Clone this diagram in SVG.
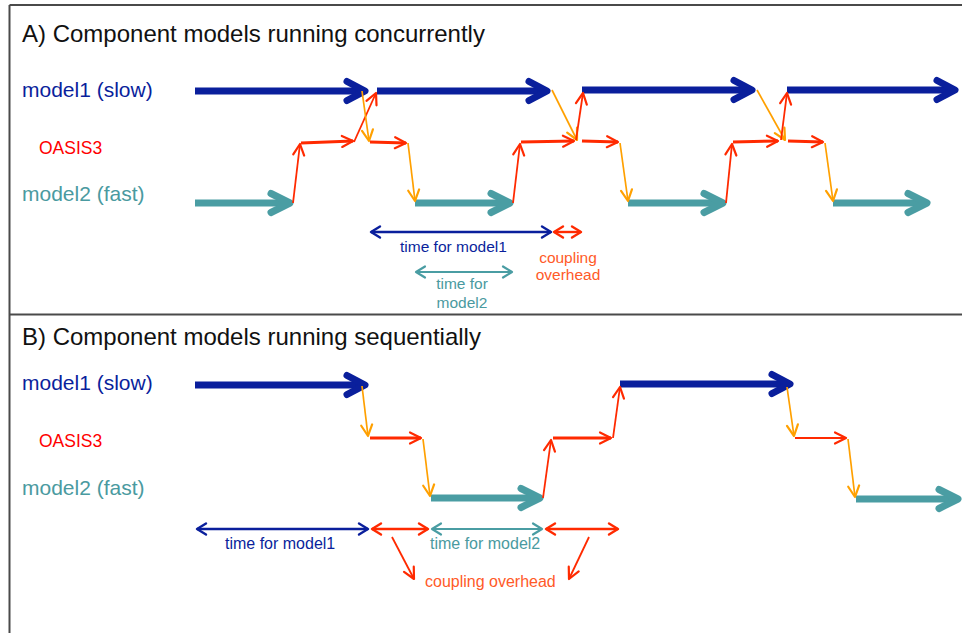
<svg xmlns="http://www.w3.org/2000/svg" width="962" height="633" viewBox="0 0 962 633">
<style>
text{font-family:"Liberation Sans",Arial,sans-serif}
.title{font-size:24px;fill:#111}
.m1{font-size:21px;fill:#0a1f9c}
.m2{font-size:21px;fill:#4a9aa0}
.oa{font-size:17.5px;fill:#ff0000}
.sm{font-size:15.5px}
.smb{font-size:16px}
.tb{fill:#0a1f9c}
.tt{fill:#4a9aa0}
.to{fill:#ff5a28}
.frame{stroke:#4a4a4a;stroke-width:2;fill:none}
.tkb{stroke:#0a1f9c;stroke-width:7;fill:none;marker-end:url(#hb)}
.tkt{stroke:#4a9da3;stroke-width:7;fill:none;marker-end:url(#ht)}
.rv{stroke:#ff2a00;stroke-width:1.8;fill:none;marker-end:url(#mr)}
.rh{stroke:#ff2a00;stroke-width:3;fill:none;marker-end:url(#mr)}
.rt{stroke:#ff2a00;stroke-width:1.8;fill:none;marker-end:url(#mr)}
.or{stroke:#ffa000;stroke-width:1.7;fill:none;marker-end:url(#mo)}
.db{stroke:#0a1f9c;stroke-width:2.4;fill:none;marker-start:url(#sb);marker-end:url(#sb)}
.dr{stroke:#ff2a00;stroke-width:2.4;fill:none;marker-start:url(#sr);marker-end:url(#sr)}
.dt{stroke:#4a9da3;stroke-width:2.2;fill:none;marker-start:url(#st);marker-end:url(#st)}
</style>
<defs>
<marker id="hb" markerUnits="userSpaceOnUse" markerWidth="40" markerHeight="40" viewBox="0 0 40 40" refX="30" refY="20" orient="auto" overflow="visible">
<path d="M12 10.5 L30 20 L12 29.5" fill="none" stroke="#0a1f9c" stroke-width="7" stroke-linecap="round" stroke-linejoin="round"/>
</marker>
<marker id="ht" markerUnits="userSpaceOnUse" markerWidth="40" markerHeight="40" viewBox="0 0 40 40" refX="30" refY="20" orient="auto" overflow="visible">
<path d="M11 10.5 L30 20 L11 29.5" fill="none" stroke="#4a9da3" stroke-width="7" stroke-linecap="round" stroke-linejoin="round"/>
</marker>
<marker id="mr" markerUnits="userSpaceOnUse" markerWidth="16" markerHeight="16" viewBox="0 0 16 16" refX="13" refY="8" orient="auto" overflow="visible">
<path d="M2 2.5 L13 8 L2 13.5" fill="none" stroke="#ff2a00" stroke-width="2.2" stroke-linecap="round" stroke-linejoin="round"/>
</marker>
<marker id="mo" markerUnits="userSpaceOnUse" markerWidth="16" markerHeight="16" viewBox="0 0 16 16" refX="13" refY="8" orient="auto" overflow="visible">
<path d="M2 2.5 L13 8 L2 13.5" fill="none" stroke="#ffa000" stroke-width="2.2" stroke-linecap="round" stroke-linejoin="round"/>
</marker>
<marker id="sb" markerUnits="userSpaceOnUse" markerWidth="16" markerHeight="16" viewBox="0 0 16 16" refX="13" refY="8" orient="auto-start-reverse" overflow="visible">
<path d="M4 2.5 L13 8 L4 13.5" fill="none" stroke="#0a1f9c" stroke-width="2.4" stroke-linecap="round" stroke-linejoin="round"/>
</marker>
<marker id="sr" markerUnits="userSpaceOnUse" markerWidth="16" markerHeight="16" viewBox="0 0 16 16" refX="13" refY="8" orient="auto-start-reverse" overflow="visible">
<path d="M4 2.5 L13 8 L4 13.5" fill="none" stroke="#ff2a00" stroke-width="2.4" stroke-linecap="round" stroke-linejoin="round"/>
</marker>
<marker id="st" markerUnits="userSpaceOnUse" markerWidth="16" markerHeight="16" viewBox="0 0 16 16" refX="13" refY="8" orient="auto-start-reverse" overflow="visible">
<path d="M4 2.5 L13 8 L4 13.5" fill="none" stroke="#4a9da3" stroke-width="2.2" stroke-linecap="round" stroke-linejoin="round"/>
</marker>
</defs>
<rect width="962" height="633" fill="#fff"/>
<g id="frames">
<path class="frame" d="M9.5 5 H962 M9.5 5 V633"/>
<path class="frame" d="M9.5 314.5 H962" stroke-width="2.5"/>
</g>
<g id="panelA-labels">
<text class="title" x="22" y="42">A) Component models running concurrently</text>
<text id="A-model1" class="m1" x="22" y="97">model1 (slow)</text>
<text id="A-oasis" class="oa" x="39" y="154">OASIS3</text>
<text id="A-model2" class="m2" x="22" y="201">model2 (fast)</text>
<text class="sm tb" x="400" y="252">time for model1</text>
<text class="sm tt" x="462" y="289" text-anchor="middle">time for</text>
<text class="sm tt" x="462" y="308" text-anchor="middle">model2</text>
<text class="sm to" x="568" y="263" text-anchor="middle">coupling</text>
<text class="sm to" x="568" y="280" text-anchor="middle">overhead</text>
</g>
<g id="panelB-labels">
<text class="title" x="22" y="345">B) Component models running sequentially</text>
<text id="B-model1" class="m1" x="22" y="390">model1 (slow)</text>
<text id="B-oasis" class="oa" x="39" y="447">OASIS3</text>
<text id="B-model2" class="m2" x="22" y="495">model2 (fast)</text>
<text class="smb tb" x="225" y="549">time for model1</text>
<text class="smb tt" x="430" y="549">time for model2</text>
<text class="smb to" x="425" y="587">coupling overhead</text>
</g>
<g id="connectors">
<!-- Panel A model runs -->
<line class="tkb" x1="195" y1="91" x2="365" y2="91"/>
<line class="tkb" x1="377" y1="91" x2="547" y2="91"/>
<line class="tkb" x1="582" y1="90" x2="752" y2="90"/>
<line class="tkb" x1="787" y1="90" x2="955" y2="90"/>
<line class="tkt" x1="195" y1="203" x2="290" y2="203"/>
<line class="tkt" x1="415" y1="203" x2="510" y2="203"/>
<line class="tkt" x1="628" y1="203" x2="723" y2="203"/>
<line class="tkt" x1="833" y1="203" x2="927" y2="203"/>
<!-- Panel A coupling -->
<line class="rv" x1="293" y1="203" x2="300" y2="144"/>
<line class="rh" x1="301" y1="143" x2="353" y2="141"/>
<line class="rv" x1="354" y1="142" x2="376" y2="93"/>
<line class="or" x1="362" y1="91" x2="369" y2="141"/>
<line class="rh" x1="370" y1="142" x2="406" y2="143"/>
<line class="or" x1="408" y1="143" x2="415" y2="201"/>
<line class="rv" x1="513" y1="203" x2="520" y2="144"/>
<line class="rh" x1="521" y1="142" x2="574" y2="141"/>
<line class="or" x1="552" y1="90" x2="577" y2="140"/>
<line class="rv" x1="576" y1="140" x2="583" y2="93"/>
<line class="rh" x1="582" y1="141" x2="618" y2="142"/>
<line class="or" x1="620" y1="143" x2="628" y2="201"/>
<line class="rv" x1="726" y1="203" x2="732" y2="144"/>
<line class="rh" x1="733" y1="142" x2="778" y2="141"/>
<line class="or" x1="757" y1="90" x2="785" y2="140"/>
<line class="rv" x1="781" y1="140" x2="787" y2="93"/>
<line class="rh" x1="788" y1="141" x2="823" y2="142"/>
<line class="or" x1="825" y1="143" x2="833" y2="201"/>
<!-- Panel A measures -->
<line class="db" x1="371" y1="232" x2="551" y2="232"/>
<line class="dr" x1="554" y1="232" x2="581" y2="232"/>
<line class="dt" x1="416" y1="272" x2="512" y2="272"/>
<!-- Panel B model runs -->
<line class="tkb" x1="195" y1="385" x2="365" y2="385"/>
<line class="tkb" x1="620" y1="384" x2="790" y2="384"/>
<line class="tkt" x1="431" y1="498" x2="540" y2="498"/>
<line class="tkt" x1="856" y1="499" x2="958" y2="499"/>
<!-- Panel B coupling -->
<line class="or" x1="362" y1="386" x2="368" y2="436"/>
<line class="rh" x1="370" y1="438" x2="421" y2="438"/>
<line class="or" x1="423" y1="439" x2="430" y2="496"/>
<line class="rv" x1="543" y1="498" x2="551" y2="440"/>
<line class="rh" x1="553" y1="438" x2="611" y2="438"/>
<line class="rv" x1="613" y1="438" x2="620" y2="387"/>
<line class="or" x1="787" y1="387" x2="794" y2="436"/>
<line class="rt" x1="795" y1="438" x2="846" y2="438"/>
<line class="or" x1="848" y1="439" x2="855" y2="497"/>
<!-- Panel B measures -->
<line class="db" x1="197" y1="529" x2="368" y2="529"/>
<line class="dr" x1="372" y1="529" x2="428" y2="529"/>
<line class="dt" x1="432" y1="529" x2="542" y2="529"/>
<line class="dr" x1="546" y1="529" x2="618" y2="529"/>
<line class="rt" x1="392" y1="537" x2="414" y2="579"/>
<line class="rt" x1="589" y1="537" x2="569" y2="579"/>
</g>
</svg>
